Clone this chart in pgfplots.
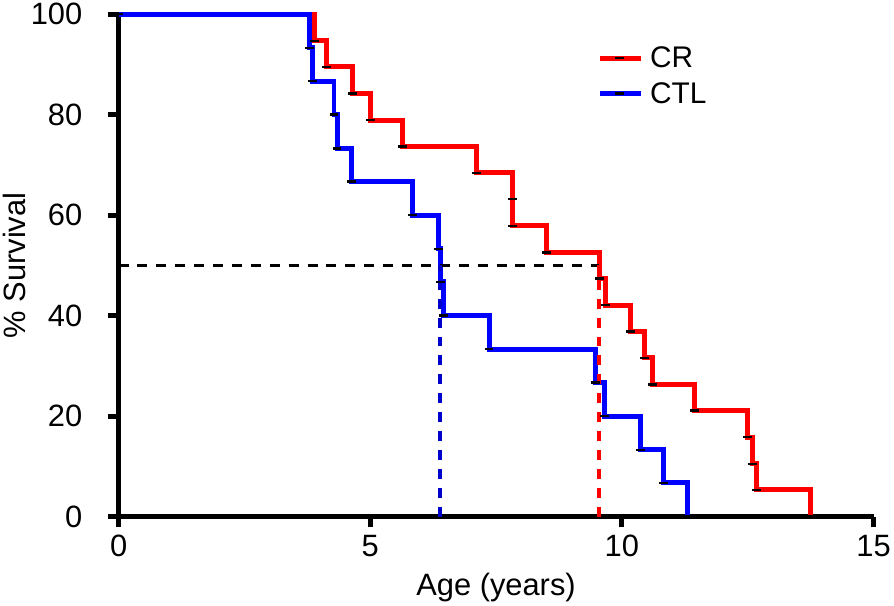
\documentclass[border=0pt]{standalone}
\usepackage{fontspec}
\setmainfont{Liberation Sans}
\usepackage{pgfplots}
\pgfplotsset{compat=1.18}
\begin{document}
\begin{tikzpicture}
\begin{axis}[
  scale only axis,
  width=759pt, height=505pt,
  xmin=0, xmax=15, ymin=0, ymax=100,
  axis x line=bottom, axis y line=left,
  axis line style={-, line width=5.5pt},
  xtick={0,5,10,15}, ytick={0,20,...,100},
  tick align=outside, major tick length=11pt,
  tick style={black, line width=5pt},
  /pgf/number format/assume math mode=true,
  tick label style={font=\fontsize{31}{36}\selectfont},
  xticklabel style={yshift=-4pt},
  yticklabel style={xshift=-22pt},
  label style={font=\fontsize{31}{36}\selectfont},
  xlabel={Age (years)}, ylabel={\% Survival},
  xlabel style={yshift=-10pt},
  ylabel style={yshift=-2pt},
  clip=false,
  legend style={draw=none, fill=none, at={(0.634,0.937)}, anchor=north west,
    font=\fontsize{30}{35}\selectfont, row sep=11pt, inner sep=0pt,
    nodes={inner xsep=7pt, inner ysep=1pt}},
  legend cell align=left,
  legend image code/.code={\draw[mark repeat=2, mark phase=2]
    plot coordinates {(0pt,0pt) (20pt,0pt) (41pt,0pt)};},
  mark options={solid, black, line width=2.4pt},
  every axis plot/.append style={line width=5pt, mark=-, mark size=4.5pt},
]
% CR group (n=19)
\addplot[red, const plot] coordinates {
  (0,100) (3.89,94.7) (4.13,89.5) (4.65,84.2) (5.0,78.9) (5.64,73.7)
  (7.12,68.4) (7.83,63.2) (7.83,57.9) (8.5,52.6) (9.55,47.4) (9.67,42.1)
  (10.18,36.8) (10.45,31.6) (10.6,26.3) (11.45,21.1) (12.49,15.8)
  (12.6,10.5) (12.68,5.3) (13.74,0)
};
% CTL group (n=15)
\addplot[blue, const plot] coordinates {
  (0,100) (3.8,93.3) (3.85,86.7) (4.28,80) (4.34,73.3) (4.63,66.7)
  (5.84,60) (6.36,53.3) (6.39,46.7) (6.46,40) (7.36,33.3) (9.47,26.7)
  (9.66,20) (10.37,13.3) (10.83,6.7) (11.3,0)
};
\legend{CR, CTL}
% median lines
\addplot[black, line width=3.5pt, mark=none, dash pattern=on 10pt off 9pt, forget plot]
  coordinates {(0,50) (9.55,50)};
\addplot[blue!80!black, line width=3.5pt, mark=none, dash pattern=on 10pt off 9pt, forget plot]
  coordinates {(6.39,0) (6.39,50)};
\addplot[red, line width=3.5pt, mark=none, dash pattern=on 10pt off 9pt, forget plot]
  coordinates {(9.55,0) (9.55,50)};
\end{axis}
\end{tikzpicture}
\end{document}
